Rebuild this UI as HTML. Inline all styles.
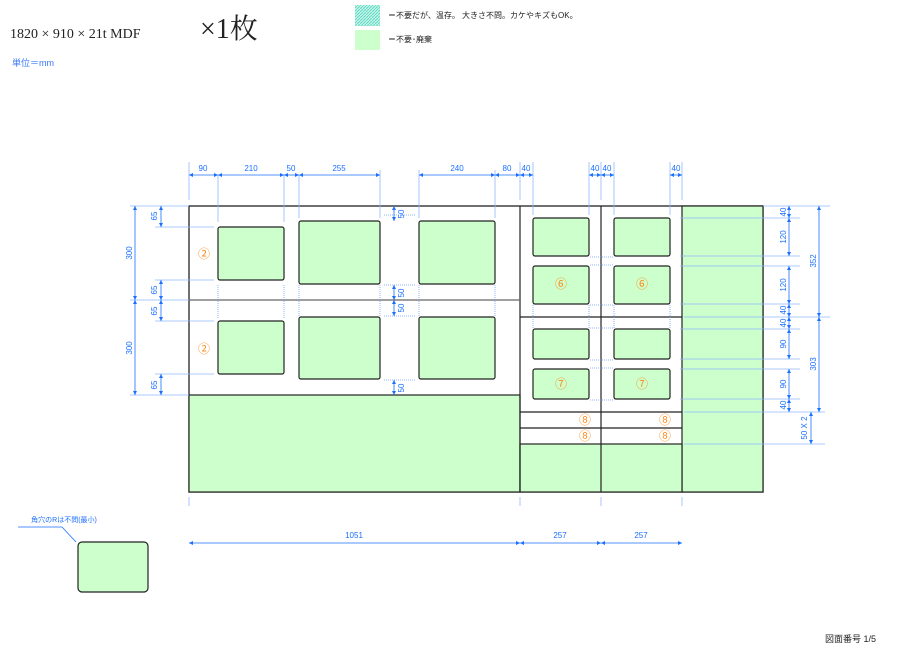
<!DOCTYPE html>
<html><head><meta charset="utf-8"><style>
body{margin:0;background:#fff;width:900px;height:667px;overflow:hidden}
svg{display:block}
text{font-family:"Liberation Sans","Noto Sans CJK JP",sans-serif}
</style></head><body>
<svg width="900" height="667" viewBox="0 0 900 667" xmlns="http://www.w3.org/2000/svg">
<defs>
<pattern id="h" width="3" height="3" patternUnits="userSpaceOnUse"><rect width="3" height="3" fill="#c8f5ec"/><path d="M0 3L3 0" stroke="#5fd9c0" stroke-width="1"/></pattern>
<marker id="a" markerWidth="6" markerHeight="6" refX="5" refY="3" orient="auto-start-reverse"><path d="M0 0.5L5 3L0 5.5z" fill="#1a6fff"/></marker>
</defs>
<text x="10" y="38" font-family="Liberation Serif" font-size="14" fill="#222" style="font-family:'Liberation Serif',serif">1820 × 910 × 21t  MDF</text>
<text x="200" y="38" font-size="28" fill="#222" style="font-family:'Liberation Serif','Noto Serif CJK SC',serif">×1枚</text>
<text x="12" y="66" font-size="9" fill="#3a7bff">単位＝mm</text>
<rect x="355" y="5" width="25" height="21" fill="url(#h)"/>
<rect x="355" y="30" width="25" height="20" fill="#ccffcc"/>
<text x="388" y="18" font-size="8" fill="#222">＝不要だが、温存。 大きさ不問。カケやキズもOK。</text>
<text x="388" y="42" font-size="8" fill="#222">＝不要･廃棄</text>

<!-- board -->
<rect x="189" y="206" width="574" height="286" fill="#fff" stroke="#222" stroke-width="1.3"/>
<rect x="189" y="395" width="331" height="97" fill="#ccffcc" stroke="#222" stroke-width="1.2"/>
<rect x="682" y="206" width="81" height="286" fill="#ccffcc" stroke="#222" stroke-width="1.2"/>
<rect x="520" y="444" width="162" height="48" fill="#ccffcc" stroke="#222" stroke-width="1.2"/>
<g stroke="#222" stroke-width="1.2">
<line x1="520" y1="206" x2="520" y2="492"/><line x1="601" y1="206" x2="601" y2="492"/>
<line x1="520" y1="317" x2="682" y2="317"/>
<line x1="520" y1="412" x2="682" y2="412"/><line x1="520" y1="428" x2="682" y2="428"/>
</g>
<line x1="189" y1="300" x2="520" y2="300" stroke="#666" stroke-width="1.3"/>
<g fill="#ccffcc" stroke="#222" stroke-width="1.2">
<rect x="218" y="227" width="66" height="53" rx="2"/><rect x="299" y="221" width="81" height="63" rx="2"/><rect x="419" y="221" width="76" height="63" rx="2"/>
<rect x="218" y="321" width="66" height="53" rx="2"/><rect x="299" y="317" width="81" height="62" rx="2"/><rect x="419" y="317" width="76" height="62" rx="2"/>
<rect x="533" y="218" width="56" height="38" rx="2"/><rect x="614" y="218" width="56" height="38" rx="2"/>
<rect x="533" y="266" width="56" height="38" rx="2"/><rect x="614" y="266" width="56" height="38" rx="2"/>
<rect x="533" y="329" width="56" height="30" rx="2"/><rect x="614" y="329" width="56" height="30" rx="2"/>
<rect x="533" y="369" width="56" height="30" rx="2"/><rect x="614" y="369" width="56" height="30" rx="2"/>
<rect x="78" y="542" width="70" height="50" rx="4"/>
</g>
<g fill="#ff8a1a" font-size="12" text-anchor="middle">
<text x="204" y="258">②</text><text x="204" y="353">②</text>
<text x="561" y="288">⑥</text><text x="642" y="288">⑥</text>
<text x="561" y="388">⑦</text><text x="642" y="388">⑦</text>
<text x="585" y="424">⑧</text><text x="665" y="424">⑧</text>
<text x="585" y="440">⑧</text><text x="665" y="440">⑧</text>
</g>

<!-- dimension lines -->
<g stroke="#1a6fff" stroke-width="0.8" fill="none">
<g stroke="#8fb8ff">
<line x1="189" y1="162" x2="189" y2="200"/><line x1="218" y1="175" x2="218" y2="222"/><line x1="284" y1="175" x2="284" y2="222"/><line x1="299" y1="175" x2="299" y2="218"/><line x1="380" y1="170" x2="380" y2="218"/><line x1="419" y1="170" x2="419" y2="218"/><line x1="495" y1="170" x2="495" y2="218"/><line x1="520" y1="162" x2="520" y2="200"/><line x1="533" y1="162" x2="533" y2="215"/><line x1="589" y1="162" x2="589" y2="215"/><line x1="601" y1="162" x2="601" y2="200"/><line x1="614" y1="162" x2="614" y2="215"/><line x1="670" y1="162" x2="670" y2="215"/><line x1="682" y1="162" x2="682" y2="200"/>
<line x1="130" y1="206" x2="189" y2="206"/><line x1="155" y1="227" x2="214" y2="227"/><line x1="155" y1="280" x2="214" y2="280"/><line x1="130" y1="300" x2="189" y2="300"/><line x1="155" y1="321" x2="214" y2="321"/><line x1="155" y1="374" x2="214" y2="374"/><line x1="130" y1="395" x2="189" y2="395"/>
<line x1="763" y1="206" x2="830" y2="206"/><line x1="680" y1="218" x2="800" y2="218"/><line x1="680" y1="256" x2="800" y2="256"/><line x1="680" y1="266" x2="800" y2="266"/><line x1="680" y1="304" x2="800" y2="304"/><line x1="684" y1="317" x2="830" y2="317"/><line x1="680" y1="329" x2="800" y2="329"/><line x1="680" y1="359" x2="800" y2="359"/><line x1="680" y1="369" x2="800" y2="369"/><line x1="680" y1="399" x2="800" y2="399"/><line x1="684" y1="412" x2="825" y2="412"/><line x1="684" y1="444" x2="825" y2="444"/>
<line x1="189" y1="497" x2="189" y2="506"/><line x1="520" y1="497" x2="520" y2="506"/><line x1="601" y1="497" x2="601" y2="506"/><line x1="682" y1="497" x2="682" y2="506"/>
</g>
<g stroke-dasharray="1 1" stroke="#6fa0ff">
<line x1="384" y1="215" x2="416" y2="215"/><line x1="384" y1="285" x2="416" y2="285"/><line x1="384" y1="316" x2="416" y2="316"/><line x1="384" y1="380" x2="416" y2="380"/>
<line x1="218" y1="285" x2="218" y2="318"/><line x1="284" y1="285" x2="284" y2="318"/><line x1="299" y1="285" x2="299" y2="316"/><line x1="380" y1="285" x2="380" y2="316"/><line x1="419" y1="285" x2="419" y2="316"/><line x1="495" y1="285" x2="495" y2="316"/>
<line x1="590" y1="257" x2="613" y2="257"/><line x1="590" y1="265" x2="613" y2="265"/><line x1="590" y1="305" x2="613" y2="305"/><line x1="590" y1="328" x2="613" y2="328"/><line x1="590" y1="360" x2="613" y2="360"/><line x1="590" y1="368" x2="613" y2="368"/><line x1="590" y1="400" x2="613" y2="400"/>
<line x1="533" y1="305" x2="533" y2="328"/><line x1="589" y1="305" x2="589" y2="328"/><line x1="614" y1="305" x2="614" y2="328"/><line x1="670" y1="305" x2="670" y2="328"/>
</g>
<g marker-start="url(#a)" marker-end="url(#a)">
<line x1="189" y1="175" x2="218" y2="175"/><line x1="218" y1="175" x2="284" y2="175"/><line x1="284" y1="175" x2="299" y2="175"/><line x1="299" y1="175" x2="380" y2="175"/><line x1="419" y1="175" x2="495" y2="175"/><line x1="495" y1="175" x2="520" y2="175"/><line x1="520" y1="175" x2="533" y2="175"/><line x1="589" y1="175" x2="601" y2="175"/><line x1="601" y1="175" x2="614" y2="175"/><line x1="670" y1="175" x2="682" y2="175"/>
<line x1="135" y1="206" x2="135" y2="300"/><line x1="135" y1="300" x2="135" y2="395"/>
<line x1="161" y1="206" x2="161" y2="227"/><line x1="161" y1="280" x2="161" y2="300"/><line x1="161" y1="300" x2="161" y2="321"/><line x1="161" y1="374" x2="161" y2="395"/>
<line x1="394" y1="206" x2="394" y2="221"/><line x1="394" y1="285" x2="394" y2="300"/><line x1="394" y1="300" x2="394" y2="316"/><line x1="394" y1="380" x2="394" y2="395"/>
<line x1="789" y1="206" x2="789" y2="218"/><line x1="789" y1="218" x2="789" y2="256"/><line x1="789" y1="266" x2="789" y2="304"/><line x1="789" y1="304" x2="789" y2="317"/><line x1="789" y1="317" x2="789" y2="329"/><line x1="789" y1="329" x2="789" y2="359"/><line x1="789" y1="369" x2="789" y2="399"/><line x1="789" y1="399" x2="789" y2="412"/>
<line x1="819" y1="206" x2="819" y2="317"/><line x1="819" y1="317" x2="819" y2="412"/><line x1="811" y1="412" x2="811" y2="444"/>
<line x1="189" y1="543" x2="520" y2="543"/><line x1="520" y1="543" x2="601" y2="543"/><line x1="601" y1="543" x2="682" y2="543"/>
</g>
<path d="M18 527H62L76 542" stroke="#1a6fff"/>
</g>
<g fill="#1a6fff" font-size="8" text-anchor="middle">
<text x="203" y="171">90</text><text x="251" y="171">210</text><text x="291" y="171">50</text><text x="339" y="171">255</text><text x="457" y="171">240</text><text x="507" y="171">80</text><text x="526" y="171">40</text><text x="595" y="171">40</text><text x="607" y="171">40</text><text x="676" y="171">40</text>
<text x="354" y="538">1051</text><text x="560" y="538">257</text><text x="641" y="538">257</text>
<g transform="rotate(-90)">
<text x="-253" y="132">300</text><text x="-348" y="132">300</text>
<text x="-216" y="157">65</text><text x="-290" y="157">65</text><text x="-311" y="157">65</text><text x="-385" y="157">65</text>
<text x="-214" y="404">50</text><text x="-293" y="404">50</text><text x="-308" y="404">50</text><text x="-388" y="404">50</text>
<text x="-212" y="786">40</text><text x="-237" y="786">120</text><text x="-285" y="786">120</text><text x="-310" y="786">40</text><text x="-323" y="786">40</text><text x="-344" y="786">90</text><text x="-384" y="786">90</text><text x="-405" y="786">40</text>
<text x="-261" y="816">352</text><text x="-364" y="816">303</text><text x="-428" y="807">50 X 2</text>
</g>
<text x="64" y="522" font-size="7">角穴のRは不問(最小)</text>
</g>
<text x="825" y="642" font-size="9" fill="#222">図面番号 1/5</text>
</svg>
</body></html>
